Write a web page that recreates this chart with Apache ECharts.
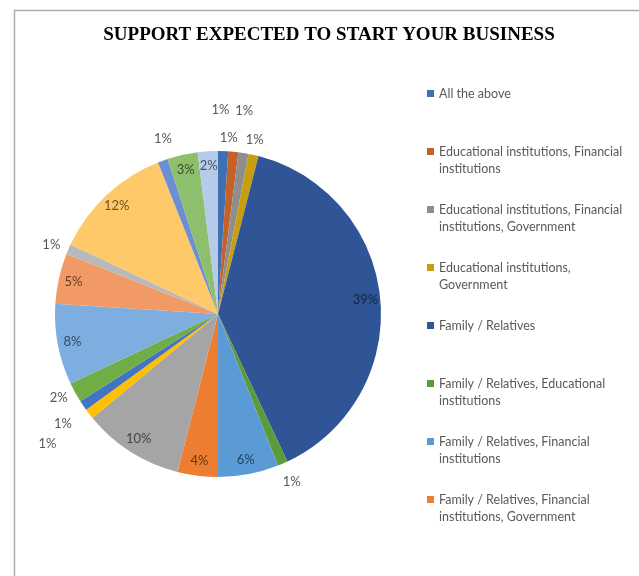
<!DOCTYPE html>
<html>
<head>
<meta charset="utf-8">
<script src="https://cdn.jsdelivr.net/npm/echarts@6/dist/echarts.min.js"></script>
<style>
  html, body { margin: 0; padding: 0; background: #ffffff; }
  #chart { width: 639px; height: 576px; }
</style>
</head>
<body>
<div id="chart"></div>
<script>
// Answer categories, in survey order (clockwise from 12 o'clock)
const categories = [
  'All the above',
  'Educational institutions, Financial institutions',
  'Educational institutions, Financial institutions, Government',
  'Educational institutions, Government',
  'Family / Relatives',
  'Family / Relatives, Educational institutions',
  'Family / Relatives, Financial institutions',
  'Family / Relatives, Financial institutions, Government',
  'Family / Relatives, Government',
  'Financial institutions',
  'Financial institutions, Government',
  'Friends',
  'Friends, Family / Relatives',
  'Friends, Financial institutions',
  'Friends, Government',
  'Government',
  'None',
  'Others',
  'Self'
];

// Share of respondents, in percent
const shares = [1, 1, 1, 1, 39, 1, 6, 4, 10, 1, 1, 2, 8, 5, 1, 12, 1, 3, 2];

// Slice fill colours
const sliceColors = [
  '#3E71B4', '#C4612B', '#8E8E8E', '#C99D10', '#2F5597', '#5A9B3B',
  '#5B9BD5', '#ED7D31', '#A5A5A5', '#FFC000', '#4472C4', '#70AD47',
  '#7DAEDF', '#F29A66', '#B9B9B9', '#FFC96A', '#6C8FD2', '#8DBF6C', '#B6CAE9'
];

// Label placement per slice: inside the slice, or outside with a
// radial offset (leader length) and a sideways nudge (length2)
const labelInside = [
  false, false, false, false, true, false,
  true, true, true, false, false, false,
  true, true, false, true, false, true, true
];
const leaderLength = [41, 14, 43, 15, 0, 20, 0, 0, 0, 49, 33, 12, 0, 0, 11, 0, 23, 0, 0];
const leaderShift  = [-14, -16, -16, -12, 0, -9, 0, 0, 0, -7, -17, -4, 0, 0, -3, 0, -18, 0, 0];

// Only the first entries fit in the legend box
const legendEntries = categories.slice(0, 8);

const LEGEND_FONT = 'Lato, "Open Sans", sans-serif';
const LEGEND_SIZE = 12.5;
const LEGEND_WRAP = 190;

// Greedy word wrap to two lines. A blank line is put above so the first
// line sits level with the legend swatch, and single lines get a blank
// second line so every entry has the same height.
const measureCtx = document.createElement('canvas').getContext('2d');
measureCtx.font = LEGEND_SIZE + 'px Lato';
function wrapLegend(name) {
  const words = name.split(' ');
  const lines = [];
  let line = '';
  words.forEach(w => {
    const trial = line ? line + ' ' + w : w;
    if (line && measureCtx.measureText(trial).width > LEGEND_WRAP) {
      lines.push(line);
      line = w;
    } else {
      line = trial;
    }
  });
  lines.push(line);
  if (lines.length < 2) lines.push(' ');
  return ' \n' + lines.join('\n');
}

function darken(hex, f) {
  const n = parseInt(hex.slice(1), 16);
  const r = Math.round(((n >> 16) & 255) * f);
  const g = Math.round(((n >> 8) & 255) * f);
  const b = Math.round((n & 255) * f);
  return 'rgb(' + r + ',' + g + ',' + b + ')';
}

const chart = echarts.init(document.getElementById('chart'), null, { renderer: 'canvas' });

const center = [218, 314];
const R = 163;

const sliceData = categories.map((name, i) => ({
  name: name,
  value: shares[i],
  itemStyle: { color: sliceColors[i] }
}));

// Transparent ring carrying the labels, so inside labels sit near the rim
const labelData = categories.map((name, i) => {
  const inside = labelInside[i];
  return {
    name: name,
    value: shares[i],
    itemStyle: { color: 'rgba(0,0,0,0)' },
    label: {
      position: inside ? 'inside' : 'outside',
      color: inside ? darken(sliceColors[i], 0.42) : '#595959'
    },
    labelLine: { length: leaderLength[i], length2: leaderShift[i] }
  };
});

chart.setOption({
  backgroundColor: '#ffffff',
  animation: false,
  graphic: [
    {
      type: 'rect',
      silent: true,
      shape: { x: 14.5, y: 10.5, width: 700, height: 700 },
      style: { fill: 'none', stroke: '#ABABAB', lineWidth: 1.5 }
    }
  ],
  title: {
    text: 'SUPPORT EXPECTED TO START YOUR BUSINESS',
    left: 329,
    top: 26,
    padding: 0,
    textAlign: 'center',
    textStyle: {
      fontFamily: '"Liberation Serif", "Times New Roman", serif',
      fontWeight: 'bold',
      fontSize: 19,
      color: '#000000'
    }
  },
  legend: {
    orient: 'vertical',
    left: 427,
    top: 68,
    padding: 0,
    itemGap: 7,
    itemWidth: 7,
    itemHeight: 7,
    icon: 'rect',
    selectedMode: false,
    data: legendEntries,
    formatter: wrapLegend,
    textStyle: {
      fontFamily: LEGEND_FONT,
      fontSize: LEGEND_SIZE,
      color: '#595959',
      lineHeight: 17
    }
  },
  series: [
    {
      type: 'pie',
      center: center,
      radius: [0, R],
      startAngle: 90,
      clockwise: true,
      silent: true,
      label: { show: false },
      labelLine: { show: false },
      itemStyle: { borderWidth: 0 },
      data: sliceData
    },
    {
      type: 'pie',
      center: center,
      radius: [R * 0.78, R],
      startAngle: 90,
      clockwise: true,
      silent: true,
      avoidLabelOverlap: false,
      label: {
        show: true,
        formatter: '{c}%',
        fontFamily: LEGEND_FONT,
        fontSize: 13,
        distanceToLabelLine: 1
      },
      labelLine: { show: false },
      data: labelData
    }
  ]
});
</script>
</body>
</html>
